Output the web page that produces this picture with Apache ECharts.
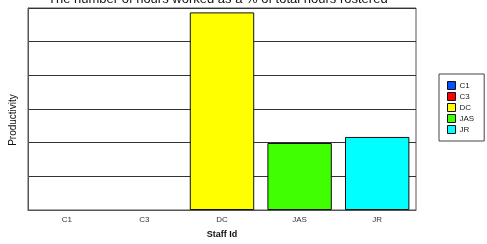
<!DOCTYPE html>
<html>
<head>
<meta charset="utf-8">
<script src="https://cdn.jsdelivr.net/npm/echarts@6/dist/echarts.min.js"></script>
<style>
	html, body { margin: 0; padding: 0; background: #fff; }
	#chart { width: 487px; height: 244px; }
</style>
</head>
<body>
<div id="chart"></div>
<script>
var staffIds = ['C1', 'C3', 'DC', 'JAS', 'JR'];
var productivity = [0, 0, 5.87, 1.99, 2.17];
var barColors = ['#0050ff', '#ff0000', '#ffff00', '#3fff00', '#00ffff'];

window.onload = function() {
	var myChart = echarts.init(document.getElementById('chart'));
	// one series per staff id so the legend lists every id
	var series = staffIds.map(function(id, i) {
		var data = staffIds.map(function(c, j) {
			if (j != i) return '-';
			// a zero bar has no outline in the original
			return { value: productivity[i], itemStyle: { borderWidth: productivity[i] ? 1 : 0 } };
		});
		return {
			name: id,
			type: 'bar',
			stack: 'all',
			barCategoryGap: '17%',
			itemStyle: { color: barColors[i], borderColor: '#111', borderWidth: 1 },
			data: data
		};
	});
	var option = {
		animation: false,
		title: {
			text: 'The number of hours worked as a % of total hours rostered',
			left: 43,
			top: -12,
			textStyle: { fontFamily: 'Liberation Sans', fontSize: 13, fontWeight: 'normal', color: '#111' }
		},
		legend: {
			orient: 'vertical',
			left: 439,
			top: 74,
			padding: [7, 10, 7, 8],
			itemWidth: 8,
			itemHeight: 8,
			itemGap: 2,
			borderColor: '#444',
			borderWidth: 1,
			icon: 'rect',
			itemStyle: { borderColor: '#111', borderWidth: 1 },
			textStyle: { fontFamily: 'Liberation Sans', fontSize: 8, color: '#222', padding: [0, 0, 0, -1] },
			data: staffIds
		},
		grid: {
			left: 27, right: 71, top: 8, bottom: 34,
			show: true, borderColor: '#555', borderWidth: 1
		},
		xAxis: {
			type: 'category',
			data: staffIds,
			name: 'Staff Id',
			nameLocation: 'middle',
			nameGap: 20,
			nameTextStyle: { fontFamily: 'Liberation Sans', fontSize: 9, fontWeight: 'bold', color: '#111' },
			axisLine: { lineStyle: { color: '#555' } },
			axisTick: { show: false },
			axisLabel: { fontFamily: 'Liberation Sans', fontSize: 8, color: '#333', margin: 6 }
		},
		yAxis: {
			type: 'value',
			min: 0,
			max: 6,
			interval: 1,
			name: 'Productivity',
			nameLocation: 'middle',
			nameGap: 10,
			nameTextStyle: { fontFamily: 'Liberation Sans', fontSize: 10, color: '#111', padding: [0, 22, 0, 0] },
			axisLine: { show: true, lineStyle: { color: '#555' } },
			axisTick: { show: false },
			axisLabel: { show: false },
			splitLine: { lineStyle: { color: '#333', width: 1 } }
		},
		series: series
	};
	myChart.setOption(option);
};
</script>
</body>
</html>
